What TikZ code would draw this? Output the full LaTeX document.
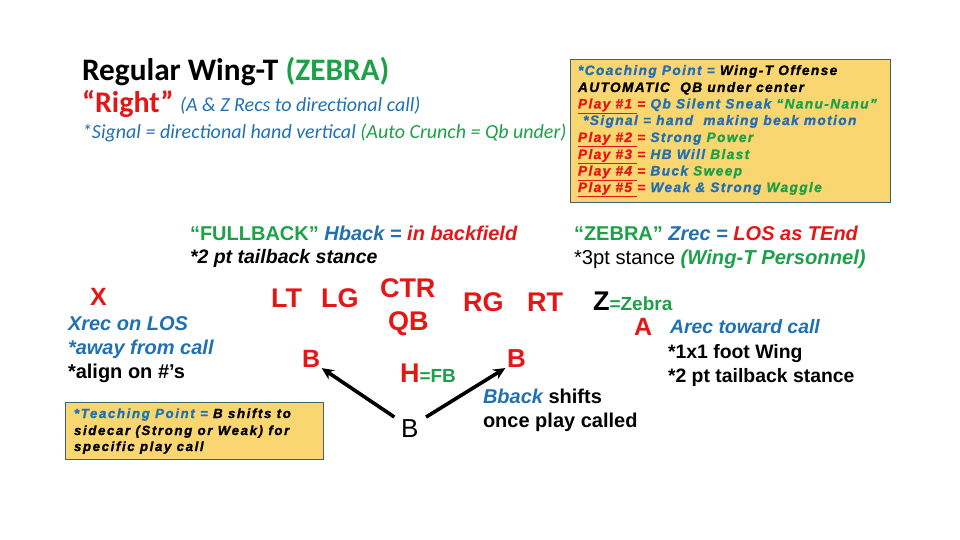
\documentclass[tikz,border=0pt]{standalone}
\usepackage{fontspec}
\setmainfont{Liberation Sans}
\newfontfamily\calib{Carlito}
\newfontfamily\boxfont[LetterSpace=10,FakeBold=1.3]{Liberation Sans}
\newfontfamily\tboxfont[LetterSpace=12,FakeBold=1.3]{Liberation Sans}
\usetikzlibrary{arrows.meta}
\definecolor{cred}{RGB}{228,22,22}
\definecolor{cblue}{RGB}{32,112,178}
\definecolor{cgreen}{RGB}{28,160,72}
\definecolor{cbox}{RGB}{250,214,112}
\definecolor{cborder}{RGB}{60,100,112}
\tikzset{
  txt/.style={anchor=base west, inner sep=0pt, outer sep=0pt},
  player/.style={txt, font=\fontsize{27}{27}\selectfont\bfseries, text=cred},
  note/.style={txt, font=\fontsize{20}{20}\selectfont\bfseries},
  side/.style={txt, font=\fontsize{19.4}{19.4}\selectfont\bfseries},
  notebox/.style={draw=cborder, line width=1pt, fill=cbox},
  boxtxt/.style={txt, font=\boxfont\fontsize{13.7}{13.7}\selectfont\bfseries\itshape},
  tboxtxt/.style={txt, font=\tboxfont\fontsize{13.3}{13.3}\selectfont\bfseries\itshape},
  shiftarrow/.style={line width=3.6pt, -{Stealth[length=12pt,width=11pt]}, shorten <=2pt, shorten >=2pt}
}
\begin{document}
\begin{tikzpicture}[x=1pt,y=-1pt]
\useasboundingbox (0,0) rectangle (960,540);
% title block
\node[txt, font=\calib\fontsize{31.3}{31.3}\selectfont\bfseries] (title) at (82,81) {Regular Wing-T \textcolor{cgreen}{(ZEBRA)}};
\node[txt, font=\calib\fontsize{30}{30}\selectfont\bfseries, text=cred] (right) at (82,113) {“Right”};
\node[txt, font=\calib\fontsize{20}{20}\selectfont\itshape, text=cblue] (recs) at (180,112) {(A \& Z Recs to directional call)};
\node[txt, font=\calib\fontsize{20}{20}\selectfont\itshape, text=cblue] (signal) at (82,139) {*Signal = directional hand vertical \textcolor{cgreen}{(Auto Crunch = Qb under)}};
% coaching box
\node[notebox, minimum width=320pt, minimum height=143pt, anchor=north west, inner sep=0pt] (cbx) at (570,59) {};
\node[boxtxt, text=cblue] (c1) at (578,75) {*Coaching Point = \textcolor{black}{Wing-T Offense}};
\node[boxtxt] (c2) at (578,92) {AUTOMATIC\ \ QB under center};
\node[boxtxt, text=cblue] (c3) at (578,108.5) {\textcolor{cred}{\underline{Play \#1 }=} Qb Silent Sneak \textcolor{cgreen}{“Nanu-Nanu”}};
\node[boxtxt, text=cblue] (c4) at (578,125) {\ *Signal = hand\ \ making beak motion};
\node[boxtxt, text=cblue] (c5) at (578,142) {\textcolor{cred}{\underline{Play \#2 }=} Strong \textcolor{cgreen}{Power}};
\node[boxtxt, text=cblue] (c6) at (578,159) {\textcolor{cred}{\underline{Play \#3 }=} HB Will \textcolor{cgreen}{Blast}};
\node[boxtxt, text=cblue] (c7) at (578,175.5) {\textcolor{cred}{\underline{Play \#4 }=} Buck \textcolor{cgreen}{Sweep}};
\node[boxtxt, text=cblue] (c8) at (578,192) {\textcolor{cred}{\underline{Play \#5 }=} Weak \& Strong \textcolor{cgreen}{Waggle}};
% fullback / zebra notes
\node[note, text=cgreen] (fb1) at (190,240) {“FULLBACK” \textcolor{cblue}{\itshape Hback =} \textcolor{cred}{\itshape in backfield}};
\node[txt, font=\fontsize{19.5}{19.5}\selectfont\bfseries\itshape] (fb2) at (190,263) {*2 pt tailback stance};
\node[note, text=cgreen] (zb1) at (574,240) {“ZEBRA” \textcolor{cblue}{\itshape Zrec =} \textcolor{cred}{\itshape LOS as TEnd}};
\node[txt, font=\fontsize{20.2}{20.2}\selectfont] (zb2) at (574,264) {*3pt stance \textcolor{cgreen}{\bfseries\itshape (Wing-T Personnel)}};
% formation
\node[player, font=\fontsize{25}{25}\selectfont\bfseries] (X) at (90,305) {X};
\node[side, font=\fontsize{20}{20}\selectfont\bfseries\itshape, text=cblue] (x1) at (68,330) {Xrec on LOS};
\node[side, font=\fontsize{20}{20}\selectfont\bfseries\itshape, text=cblue] (x2) at (68,354) {*away from call};
\node[side, font=\fontsize{20}{20}\selectfont\bfseries] (x3) at (68,378) {*align on \#’s};
\node[player] (LT) at (271,307) {LT};
\node[player] (LG) at (321,307) {LG};
\node[player] (CTR) at (380,297) {CTR};
\node[player] (QB) at (388,330) {QB};
\node[player] (RG) at (463,311) {RG};
\node[player] (RT) at (527,311) {RT};
\node[txt, font=\fontsize{27}{27}\selectfont\bfseries] (Z) at (593,310) {Z\textcolor{cgreen}{\fontsize{19}{19}\selectfont=Zebra}};
\node[player, font=\fontsize{25}{25}\selectfont\bfseries] (A) at (634,335) {A};
\node[side, font=\fontsize{19.4}{19.4}\selectfont\bfseries\itshape, text=cblue] (a1) at (670,333) {Arec toward call};
\node[side] (a2) at (668,358) {*1x1 foot Wing};
\node[side] (a3) at (668,382) {*2 pt tailback stance};
\node[player, font=\fontsize{25}{25}\selectfont\bfseries] (BL) at (302,367) {B};
\node[player] (H) at (400,382) {H\textcolor{cgreen}{\fontsize{19}{19}\selectfont=FB}};
\node[player, font=\fontsize{26}{26}\selectfont\bfseries] (BR) at (507,367) {B};
\node[txt, font=\fontsize{26}{26}\selectfont] (BB) at (401,437) {B};
\node[txt, font=\fontsize{20}{20}\selectfont\bfseries] (bb1) at (483,403) {\textcolor{cblue}{\itshape Bback} shifts};
\node[txt, font=\fontsize{20}{20}\selectfont\bfseries] (bb2) at (483,427) {once play called};
% teaching box
\node[notebox, minimum width=258pt, minimum height=57pt, anchor=north west, inner sep=0pt] (tbx) at (65,402) {};
\node[tboxtxt, text=cblue] (t1) at (74,418) {*Teaching Point = \textcolor{black}{B shifts to}};
\node[tboxtxt] (t2) at (74,435) {sidecar (Strong or Weak) for};
\node[tboxtxt] (t3) at (74,451) {specific play call};
% arrows
\draw[shiftarrow] (BB.north west) ++(-5,-1) coordinate (s1) -- (BL.south east);
\draw[shiftarrow] (BB.north east) ++(6,-1) coordinate (s2) -- (BR.south west);
\end{tikzpicture}
\end{document}
